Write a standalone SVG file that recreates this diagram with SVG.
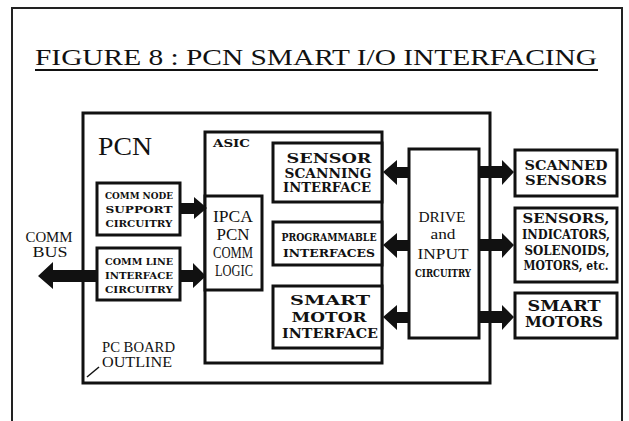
<svg xmlns="http://www.w3.org/2000/svg" width="629" height="421" viewBox="0 0 629 421">
<style>
.box{fill:#fff;stroke:#111;stroke-width:3}
.frame{fill:none;stroke:#222;stroke-width:2}
.arr{fill:#111;stroke:none}
.t{font-family:"Liberation Serif","DejaVu Serif",serif;fill:#111;text-anchor:middle}
.b{font-family:"DejaVu Serif","Liberation Serif",serif;font-weight:bold;fill:#111;text-anchor:middle}
</style>
<rect width="629" height="421" fill="#fff"/>
<rect class="frame" x="12" y="8" width="610" height="430"/>
<g id="title">
<text class="t" x="316" y="65" font-size="24" textLength="562" lengthAdjust="spacingAndGlyphs">FIGURE 8 : PCN SMART I/O INTERFACING</text>
<line x1="35" y1="70" x2="598" y2="70" stroke="#111" stroke-width="2"/>
</g>
<g id="pcn">
<rect class="box" x="83" y="113" width="407" height="270"/>
<text class="t" x="98" y="155" font-size="26" style="text-anchor:start" textLength="54" lengthAdjust="spacingAndGlyphs">PCN</text>
</g>
<g id="asic">
<rect class="box" x="205" y="132" width="177" height="231"/>
<text class="b" x="213" y="147" font-size="11" style="text-anchor:start" textLength="37" lengthAdjust="spacingAndGlyphs">ASIC</text>
</g>
<g id="comm-node">
<rect class="box" x="97" y="183" width="83" height="52"/>
<text class="b" font-size="9.5" x="139" y="199" textLength="68" lengthAdjust="spacingAndGlyphs">COMM NODE</text>
<text class="b" font-size="9.5" x="139" y="213" textLength="67" lengthAdjust="spacingAndGlyphs">SUPPORT</text>
<text class="b" font-size="9.5" x="139" y="227" textLength="67" lengthAdjust="spacingAndGlyphs">CIRCUITRY</text>
</g>
<g id="comm-line">
<rect class="box" x="97" y="248" width="83" height="52"/>
<text class="b" font-size="9.5" x="139" y="265" textLength="68" lengthAdjust="spacingAndGlyphs">COMM LINE</text>
<text class="b" font-size="9.5" x="139" y="279" textLength="68" lengthAdjust="spacingAndGlyphs">INTERFACE</text>
<text class="b" font-size="9.5" x="139" y="293" textLength="68" lengthAdjust="spacingAndGlyphs">CIRCUITRY</text>
</g>
<g id="ipca">
<rect class="box" x="205" y="196" width="57" height="94"/>
<text class="t" font-size="17" x="233" y="222" textLength="40" lengthAdjust="spacingAndGlyphs">IPCA</text>
<text class="t" font-size="17" x="233" y="240" textLength="33" lengthAdjust="spacingAndGlyphs">PCN</text>
<text class="t" font-size="17" x="233" y="258" textLength="40" lengthAdjust="spacingAndGlyphs">COMM</text>
<text class="t" font-size="17" x="234" y="276" textLength="38" lengthAdjust="spacingAndGlyphs">LOGIC</text>
</g>
<g id="sensor-scanning">
<rect class="box" x="273" y="143" width="109" height="59"/>
<text class="b" font-size="12" x="329" y="163" textLength="85" lengthAdjust="spacingAndGlyphs">SENSOR</text>
<text class="b" font-size="12" x="328" y="178" textLength="87" lengthAdjust="spacingAndGlyphs">SCANNING</text>
<text class="b" font-size="12" x="327" y="192" textLength="88" lengthAdjust="spacingAndGlyphs">INTERFACE</text>
</g>
<g id="programmable">
<rect class="box" x="273" y="222" width="109" height="43"/>
<text class="b" font-size="11" x="329" y="241" textLength="95" lengthAdjust="spacingAndGlyphs">PROGRAMMABLE</text>
<text class="b" font-size="11" x="329" y="257" textLength="92" lengthAdjust="spacingAndGlyphs">INTERFACES</text>
</g>
<g id="smart-motor-if">
<rect class="box" x="273" y="286" width="109" height="62"/>
<text class="b" font-size="12.5" x="330" y="305" textLength="80" lengthAdjust="spacingAndGlyphs">SMART</text>
<text class="b" font-size="12.5" x="329" y="322" textLength="75" lengthAdjust="spacingAndGlyphs">MOTOR</text>
<text class="b" font-size="12" x="330" y="338" textLength="96" lengthAdjust="spacingAndGlyphs">INTERFACE</text>
</g>
<g id="drive">
<rect class="box" x="409" y="149" width="70" height="189"/>
<text class="t" font-size="15.5" x="442" y="222" textLength="47" lengthAdjust="spacingAndGlyphs">DRIVE</text>
<text class="t" font-size="15.5" x="443" y="239" textLength="25" lengthAdjust="spacingAndGlyphs">and</text>
<text class="t" font-size="15.5" x="443" y="259" textLength="51" lengthAdjust="spacingAndGlyphs">INPUT</text>
<text class="b" font-size="11" x="443" y="277" textLength="56" lengthAdjust="spacingAndGlyphs">CIRCUITRY</text>
</g>
<g id="scanned-sensors">
<rect class="box" x="515" y="150" width="102" height="46"/>
<text class="b" font-size="12.5" x="566" y="170" textLength="83" lengthAdjust="spacingAndGlyphs">SCANNED</text>
<text class="b" font-size="12.5" x="566" y="185" textLength="82" lengthAdjust="spacingAndGlyphs">SENSORS</text>
</g>
<g id="sensors-etc">
<rect class="box" x="515" y="208" width="102" height="74"/>
<text class="b" font-size="12" x="566" y="223" textLength="87" lengthAdjust="spacingAndGlyphs">SENSORS,</text>
<text class="b" font-size="12" x="566" y="239" textLength="88" lengthAdjust="spacingAndGlyphs">INDICATORS,</text>
<text class="b" font-size="12" x="567" y="255" textLength="85" lengthAdjust="spacingAndGlyphs">SOLENOIDS,</text>
<text class="b" font-size="12" x="566" y="270" textLength="85" lengthAdjust="spacingAndGlyphs">MOTORS, etc.</text>
</g>
<g id="smart-motors">
<rect class="box" x="515" y="293" width="102" height="45"/>
<text class="b" font-size="14" x="564" y="311" textLength="73" lengthAdjust="spacingAndGlyphs">SMART</text>
<text class="b" font-size="14" x="564" y="327" textLength="78" lengthAdjust="spacingAndGlyphs">MOTORS</text>
</g>
<g id="comm-bus">
<text class="t" font-size="14" x="49" y="242" textLength="47" lengthAdjust="spacingAndGlyphs">COMM</text>
<text class="t" font-size="14" x="50" y="257" textLength="35" lengthAdjust="spacingAndGlyphs">BUS</text>
</g>
<g id="pc-board">
<text class="t" font-size="15" x="102" y="352" style="text-anchor:start" textLength="73" lengthAdjust="spacingAndGlyphs">PC BOARD</text>
<text class="t" font-size="15" x="102" y="367" style="text-anchor:start" textLength="70" lengthAdjust="spacingAndGlyphs">OUTLINE</text>
<line x1="87" y1="377" x2="99" y2="367" stroke="#111" stroke-width="1.5"/>
</g>
<g id="connectors">
<polygon class="arr" points="180,203 194,203 194,197 207,208 194,219 194,214 180,214"/>
<polygon class="arr" points="38,276 53,262 53,270 97,270 97,282 53,282 53,289"/>
<polygon class="arr" points="180,270 193,270 193,263 206,276 193,288 193,282 180,282"/>
<polygon class="arr" points="383,172 397,160 397,167 409,167 409,178 397,178 397,185"/>
<polygon class="arr" points="383,245 397,233 397,240 409,240 409,251 397,251 397,258"/>
<polygon class="arr" points="383,317 397,305 397,312 409,312 409,323 397,323 397,330"/>
<polygon class="arr" points="479,166 502,166 502,160 514,172 502,185 502,178 479,178"/>
<polygon class="arr" points="479,239 502,239 502,233 514,245 502,258 502,251 479,251"/>
<polygon class="arr" points="479,311 502,311 502,305 514,317 502,330 502,323 479,323"/>
</g>
</svg>
